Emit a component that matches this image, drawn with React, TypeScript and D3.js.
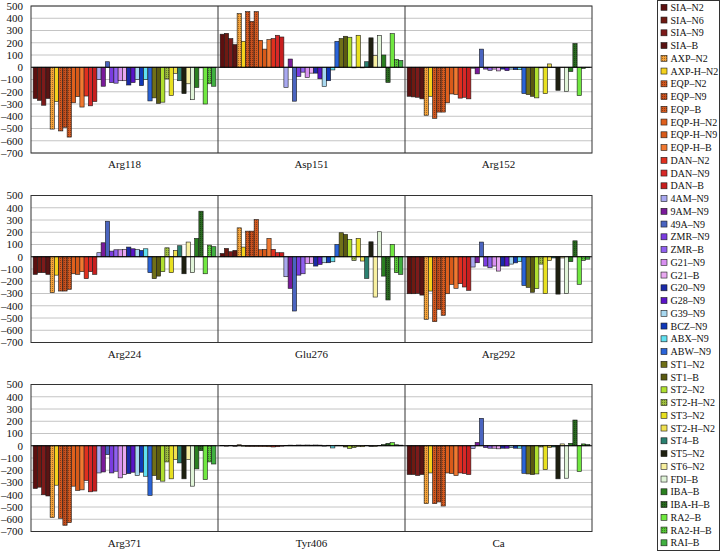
import React from "react";
import * as d3 from "d3";

const seriesNames = [
  "SIA–N2", "SIA–N6", "SIA–N9", "SIA–B", "AXP–N2", "AXP-H–N2", "EQP–N2", "EQP–N9", "EQP–B",
  "EQP-H–N2", "EQP-H–N9", "EQP-H–B", "DAN–N2", "DAN–N9", "DAN–B", "4AM–N9", "9AM–N9", "49A–N9",
  "ZMR–N9", "ZMR–B", "G21–N9", "G21–B", "G20–N9", "G28–N9", "G39–N9", "BCZ–N9", "ABX–N9", "ABW–N9",
  "ST1–N2", "ST1–B", "ST2–N2", "ST2-H–N2", "ST3–N2", "ST2-H–N2", "ST4–B", "ST5–N2", "ST6–N2",
  "FDI–B", "IBA–B", "IBA-H–B", "RA2–B", "RA2-H–B", "RAI–B",
];

const seriesColors = [
  "#5c0f0f", "#6e1a12", "#7d1a1a", "#5a1414", "#f5a33a", "#f5d21e", "#d2571e", "#c8501e", "#d45a20",
  "#e0601e", "#d85a1a", "#f07830", "#e0301e", "#d82828", "#c81e1e", "#a8a8f0", "#7a1a9a", "#4a64c0",
  "#7a3ce0", "#9060f0", "#d890f0", "#e8a8f0", "#1a2aa8", "#5a14c8", "#a8d8f0", "#1038b8", "#60e0f0",
  "#2a64d8", "#707018", "#5a5a10", "#b0e030", "#a0c040", "#e8e020", "#f0e050", "#2a8070", "#1e2010",
  "#f8f0a0", "#e0f4d8", "#2a8020", "#2a6a20", "#70e840", "#58c838", "#40b040",
];

const patternedSeries = [4, 6, 7, 8, 31, 39, 41];

const rowCategories = [
  ["Arg118", "Asp151", "Arg152"],
  ["Arg224", "Glu276", "Arg292"],
  ["Arg371", "Tyr406", "Ca"],
];

const arg118 = [-255,-270,-310,-255,-505,-280,-520,-490,-570,-290,-240,-325,-235,-315,-280,-100,-155,45,-125,-130,-110,-110,-145,-125,-100,-150,-100,-275,-250,-295,-285,-95,-230,-50,-110,-215,-135,-265,-165,-5,-300,-135,-155];
const asp151 = [270,277,234,185,438,212,454,374,454,220,148,226,234,261,247,-164,67,-277,-75,-40,-83,-48,-48,-94,-156,-110,-22,212,234,253,245,-5,261,-5,45,240,95,260,100,-124,274,65,56];
const arg152 = [-237,-242,-245,-258,-392,-237,-417,-366,-366,-290,-218,-223,-252,-245,-258,-8,-54,148,-15,-25,-15,-30,-15,-28,-15,-20,-20,-215,-223,-237,-250,-5,-215,27,-3,-188,-3,-196,-35,194,-231,-10,-3];
const arg224 = [-144,-130,-130,-144,-293,-150,-280,-280,-266,-139,-144,-122,-179,-122,-144,33,114,290,46,57,57,60,79,65,60,52,65,-130,-179,-158,-122,73,-130,52,90,-139,120,-130,150,372,-139,95,82];
const glu276 = [27,68,41,52,236,79,209,209,304,57,60,150,60,33,33,-163,-258,-443,-150,-139,-54,-54,-76,-63,-49,-49,-41,100,196,182,141,-30,150,-35,-177,122,-329,204,-158,-353,100,-130,-144];
const arg292 = [-302,-302,-299,-313,-511,-280,-530,-429,-478,-302,-226,-258,-220,-247,-274,-84,-49,120,-76,-90,-76,-117,-76,-76,-60,-50,-40,-235,-250,-290,-260,-60,-300,-30,-10,-305,-10,-300,-40,130,-225,-30,-20];
const arg371 = [-349,-338,-400,-410,-586,-322,-592,-649,-627,-330,-365,-360,-284,-376,-370,-222,-214,-73,-222,-208,-262,-235,-227,-216,-243,-216,-249,-405,-243,-276,-289,-132,-270,-113,-140,-270,-113,-330,-189,-40,-276,-132,-149];
const tyr406 = [3,-3,2,-4,8,-3,-5,-5,-5,-6,-6,-8,-10,-8,-3,2,5,4,6,5,6,5,6,5,-3,4,-18,4,2,-10,-22,-15,-5,-8,3,-5,-5,2,10,20,25,8,5];
const ca = [-235,-235,-243,-235,-473,-222,-473,-459,-492,-222,-227,-243,-222,-227,-235,-24,27,224,-15,-20,-20,-25,-20,-20,-15,-20,-20,-225,-230,-235,-230,-10,-195,-15,-10,-270,15,-265,20,210,-210,15,10];

const rowValues = [
  [arg118, asp151, arg152],
  [arg224, glu276, arg292],
  [arg371, tyr406, ca],
];

const yTicks = [500, 400, 300, 200, 100, 0, -100, -200, -300, -400, -500, -600, -700];

const W = 721;
const H = 551;
const plotLeft = 31;
const plotRight = 592;
const rowTops = [6, 195.5, 384.5];
const rowH = 147;
const FONT = "'Liberation Serif', 'Times New Roman', serif";

function fillFor(i: number) {
  return patternedSeries.includes(i) ? `url(#pat${i})` : seriesColors[i];
}

function fmt(v: number) {
  return v < 0 ? "–" + Math.abs(v) : String(v);
}

export default function App() {
  const x0 = d3.scaleBand<number>().domain([0, 1, 2]).range([plotLeft, plotRight]).padding(0);
  const x1 = d3
    .scaleBand<number>()
    .domain(d3.range(seriesNames.length))
    .range([0, x0.bandwidth()])
    .paddingInner(0)
    .paddingOuter(0.5);

  return (
    <svg
      width={W}
      height={H}
      style={{ position: "absolute", left: 0, top: 0, background: "#fff" }}
      fontFamily={FONT}
    >
      <defs>
        {patternedSeries.map((i) => {
          const base = seriesColors[i];
          const dark = d3.color(base)!.darker(1.2).formatHex();
          return (
            <pattern key={i} id={`pat${i}`} width={2} height={2} patternUnits="userSpaceOnUse">
              <rect width={2} height={2} fill={base} />
              <rect x={0} y={0} width={1} height={1} fill={dark} />
            </pattern>
          );
        })}
      </defs>
      <rect x={0} y={0} width={W} height={H} fill="#fff" />
      {rowTops.map((top, r) => {
        const y = d3.scaleLinear().domain([-700, 500]).range([top + rowH, top]);
        return (
          <g key={r}>
            {yTicks.map((t) => (
              <line
                key={"g" + t}
                x1={plotLeft}
                x2={plotRight}
                y1={y(t)}
                y2={y(t)}
                stroke="#c4c4c4"
                strokeWidth={1}
              />
            ))}
            {rowCategories[r].map((cat, c) => {
              const gx = x0(c)!;
              return (
                <g key={cat}>
                  {rowValues[r][c].map((v, i) => (
                    <rect
                      key={i}
                      x={gx + x1(i)!}
                      y={Math.min(y(v), y(0))}
                      width={x1.bandwidth()}
                      height={Math.abs(y(v) - y(0))}
                      fill={fillFor(i)}
                      stroke="#1a1a1a"
                      strokeWidth={0.6}
                    />
                  ))}
                  <text
                    x={gx + x0.bandwidth() / 2}
                    y={top + rowH + 15}
                    textAnchor="middle"
                    fontSize={11}
                    fill="#111"
                  >
                    {cat}
                  </text>
                </g>
              );
            })}
            <line x1={plotLeft} x2={plotRight} y1={y(0)} y2={y(0)} stroke="#000" strokeWidth={1} />
            <rect
              x={plotLeft}
              y={top}
              width={plotRight - plotLeft}
              height={rowH}
              fill="none"
              stroke="#333"
              strokeWidth={1}
            />
            {[1, 2].map((c) => (
              <line
                key={c}
                x1={x0(c)!}
                x2={x0(c)!}
                y1={top}
                y2={top + rowH}
                stroke="#333"
                strokeWidth={1}
              />
            ))}
            {yTicks.map((t) => (
              <text
                key={"t" + t}
                x={23}
                y={y(t)}
                dy="0.35em"
                textAnchor="end"
                fontSize={11}
                fill="#111"
              >
                {fmt(t)}
              </text>
            ))}
          </g>
        );
      })}
      <g>
        <rect x={657.5} y={0.5} width={62} height={550} fill="#fff" stroke="#333" strokeWidth={1} />
        {seriesNames.map((name, i) => {
          const cy = 7.3 + 12.75 * i;
          return (
            <g key={i}>
              <rect
                x={661}
                y={cy - 3}
                width={6}
                height={6}
                fill={fillFor(i)}
                stroke="#1a1a1a"
                strokeWidth={0.6}
              />
              <text x={670.5} y={cy} dy="0.35em" fontSize={10} fill="#111">
                {name}
              </text>
            </g>
          );
        })}
      </g>
    </svg>
  );
}
